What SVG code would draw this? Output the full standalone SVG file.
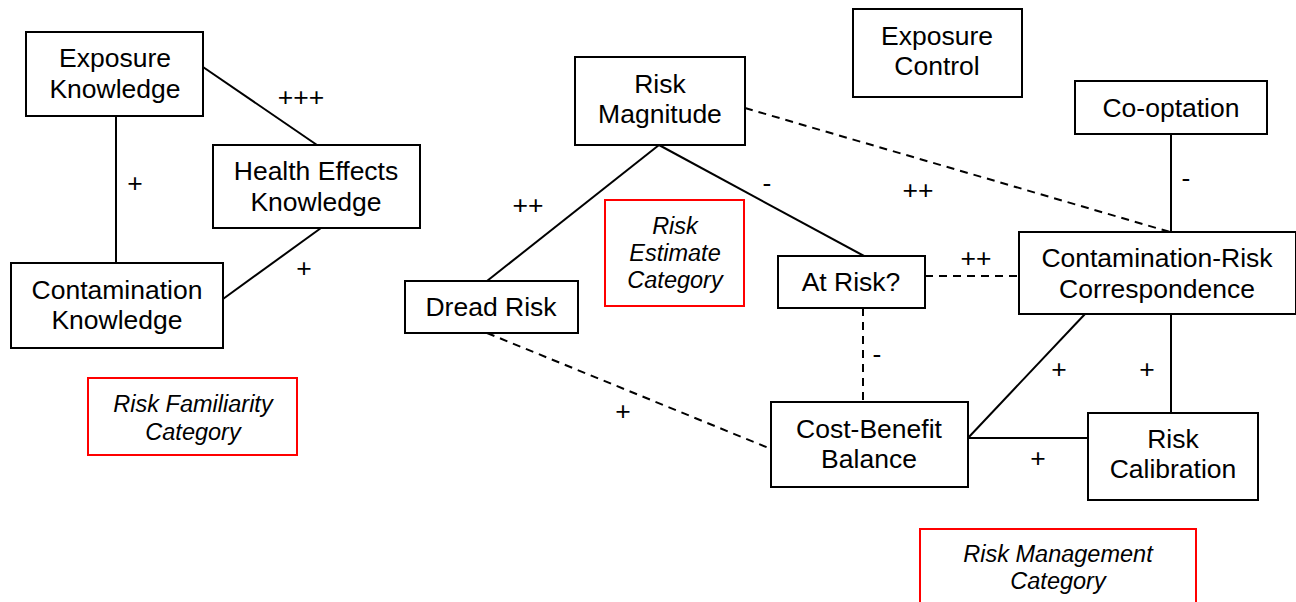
<svg xmlns="http://www.w3.org/2000/svg" width="1296" height="602" viewBox="0 0 1296 602">
<style>
.n{fill:#fff;stroke:#000;stroke-width:2}
.c{fill:#fff;stroke:#f00;stroke-width:2}
text{font-family:"Liberation Sans",Arial,sans-serif;font-size:26.5px;fill:#000;text-anchor:middle}
.i{font-style:italic;font-size:23.5px}
.s{stroke:#000;stroke-width:2;fill:none}
.d{stroke:#000;stroke-width:2;fill:none;stroke-dasharray:8,6}
</style>
<rect width="1296" height="602" fill="#fff"/>
<g id="connectors">
<line class="s" x1="203" y1="67" x2="317" y2="145"/>
<line class="s" x1="116" y1="116" x2="116" y2="263"/>
<line class="s" x1="321" y1="228" x2="223" y2="299"/>
<line class="s" x1="659" y1="145" x2="487" y2="281"/>
<line class="s" x1="659" y1="145" x2="864" y2="256"/>
<line class="d" x1="745" y1="108" x2="1170" y2="232"/>
<line class="s" x1="1171" y1="134" x2="1171" y2="232"/>
<line class="d" x1="925" y1="276" x2="1019" y2="276"/>
<line class="d" x1="863" y1="308" x2="863" y2="402"/>
<line class="d" x1="487" y1="333" x2="771" y2="449"/>
<line class="s" x1="1085" y1="314" x2="968" y2="438"/>
<line class="s" x1="968" y1="438" x2="1088" y2="438"/>
<line class="s" x1="1171" y1="314" x2="1171" y2="413"/>
<text x="301" y="106">+++</text>
<text x="135" y="192">+</text>
<text x="304" y="277">+</text>
<text x="528" y="214">++</text>
<text x="767" y="192">-</text>
<text x="918" y="199">++</text>
<text x="1186" y="187">-</text>
<text x="976" y="267">++</text>
<text x="877" y="363">-</text>
<text x="623" y="420">+</text>
<text x="1059" y="378">+</text>
<text x="1147" y="378">+</text>
<text x="1038" y="467">+</text>
</g>
<g id="exposure-knowledge"><rect class="n" x="26" y="32" width="177" height="84"/><text x="115" y="67">Exposure</text><text x="115" y="98">Knowledge</text></g>
<g id="health-effects-knowledge"><rect class="n" x="213" y="145" width="207" height="83"/><text x="316" y="180">Health Effects</text><text x="316" y="211">Knowledge</text></g>
<g id="contamination-knowledge"><rect class="n" x="11" y="263" width="212" height="85"/><text x="117" y="299">Contamination</text><text x="117" y="329">Knowledge</text></g>
<g id="risk-familiarity-category"><rect class="c" x="88" y="378" width="209" height="77"/><text class="i" x="193" y="412">Risk Familiarity</text><text class="i" x="193" y="440">Category</text></g>
<g id="risk-magnitude"><rect class="n" x="575" y="57" width="170" height="88"/><text x="660" y="93">Risk</text><text x="660" y="123">Magnitude</text></g>
<g id="dread-risk"><rect class="n" x="405" y="281" width="173" height="52"/><text x="491" y="316">Dread Risk</text></g>
<g id="risk-estimate-category"><rect class="c" x="605" y="200" width="139" height="106"/><text class="i" x="675" y="234">Risk</text><text class="i" x="675" y="261">Estimate</text><text class="i" x="675" y="288">Category</text></g>
<g id="at-risk"><rect class="n" x="778" y="256" width="147" height="52"/><text x="851" y="291">At Risk?</text></g>
<g id="exposure-control"><rect class="n" x="853" y="9" width="169" height="88"/><text x="937" y="45">Exposure</text><text x="937" y="75">Control</text></g>
<g id="co-optation"><rect class="n" x="1075" y="81" width="192" height="53"/><text x="1171" y="117">Co-optation</text></g>
<g id="contamination-risk-correspondence"><rect class="n" x="1019" y="232" width="277" height="82"/><text x="1157" y="267">Contamination-Risk</text><text x="1157" y="298">Correspondence</text></g>
<g id="cost-benefit-balance"><rect class="n" x="771" y="402" width="197" height="85"/><text x="869" y="438">Cost-Benefit</text><text x="869" y="468">Balance</text></g>
<g id="risk-calibration"><rect class="n" x="1088" y="413" width="170" height="87"/><text x="1173" y="448">Risk</text><text x="1173" y="478">Calibration</text></g>
<g id="risk-management-category"><rect class="c" x="920" y="529" width="276" height="80"/><text class="i" x="1058" y="562">Risk Management</text><text class="i" x="1058" y="589">Category</text></g>
</svg>
